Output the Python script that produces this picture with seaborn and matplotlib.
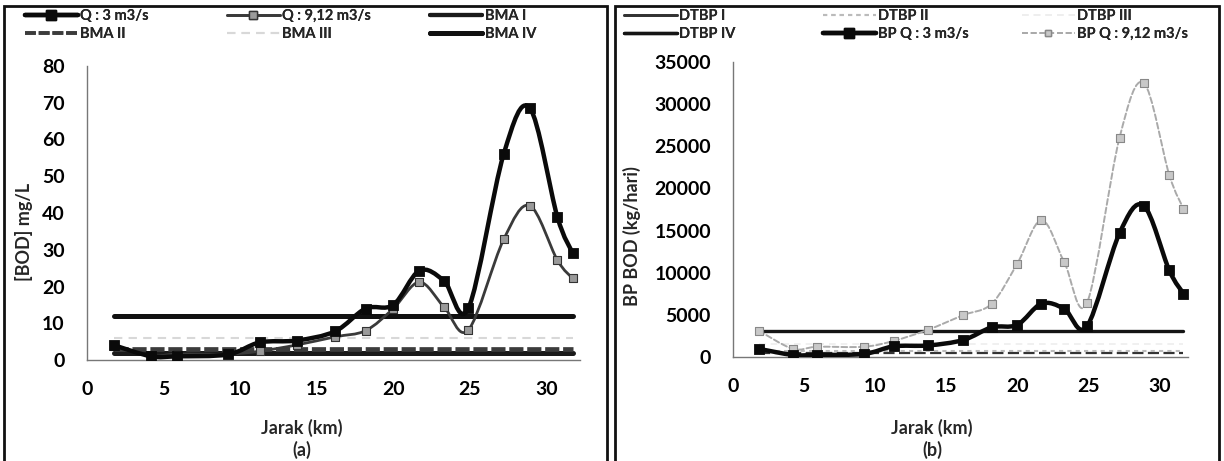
import numpy as np
import matplotlib
matplotlib.use("Agg")
import matplotlib.pyplot as plt
from matplotlib.path import Path
from matplotlib.patches import PathPatch, Rectangle
from matplotlib.lines import Line2D
import seaborn as sns

# ---------------- data ----------------
km = [1.8, 4.2, 5.9, 9.2, 11.3, 13.7, 16.2, 18.2, 20.0, 21.7, 23.3, 24.9, 27.2, 28.9, 30.7, 31.7]
bod_q3 = [4.0, 1.0, 1.0, 1.5, 4.8, 5.3, 7.8, 14.0, 15.0, 24.3, 21.6, 14.1, 56.0, 68.6, 39.0, 29.1]
bod_q912 = [3.9, 1.2, 1.6, 1.6, 2.4, 4.1, 6.3, 8.0, 14.0, 21.2, 14.5, 8.2, 32.8, 42.0, 27.2, 22.2]
bma_names = ["BMA I", "BMA II", "BMA III", "BMA IV"]
bma_values = [2, 3, 6, 12]

bp_q3 = [1000, 280, 280, 400, 1300, 1400, 2050, 3550, 3850, 6350, 5750, 3650, 14700, 17950, 10300, 7550]
bp_q912 = [3150, 1000, 1250, 1250, 1950, 3250, 5000, 6350, 11100, 16250, 11300, 6400, 26000, 32500, 21600, 17600]
dtbp_names = ["DTBP I", "DTBP II", "DTBP III", "DTBP IV"]
dtbp_values = [520, 800, 1550, 3110]

x_ticks = [0, 5, 10, 15, 20, 25, 30]
yL_ticks = [0, 10, 20, 30, 40, 50, 60, 70, 80]
yR_ticks = [0, 5000, 10000, 15000, 20000, 25000, 30000, 35000]

# ---------------- style ----------------
sns.set_theme(style="white")
plt.rcParams["font.family"] = ["Lato", "DejaVu Sans"]
plt.rcParams["font.weight"] = "bold"

W, H = 1224, 461
fig = plt.figure(figsize=(W / 100, H / 100), dpi=100)


def fx(px):
    return px / W


def fy(py):
    return 1 - py / H


def smooth(ax, x, y, color, lw, ls="-", z=3):
    pts = np.column_stack([x, y]).astype(float)
    n = len(pts)
    verts = [tuple(pts[0])]
    codes = [Path.MOVETO]
    t = 1 / 6
    for i in range(n - 1):
        p0 = pts[max(i - 1, 0)]
        p1 = pts[i]
        p2 = pts[i + 1]
        p3 = pts[min(i + 2, n - 1)]
        c1 = p1 + (p2 - p0) * t
        c2 = p2 - (p3 - p1) * t
        verts += [tuple(c1), tuple(c2), tuple(p2)]
        codes += [Path.CURVE4] * 3
    patch = PathPatch(Path(verts, codes), facecolor="none", edgecolor=color,
                      lw=lw, linestyle=ls, zorder=z, capstyle="round", joinstyle="round")
    ax.add_patch(patch)


def style_axis(ax, xlim, ylim, yticks):
    ax.set_xlim(*xlim)
    ax.set_ylim(*ylim)
    ax.set_xticks(x_ticks)
    ax.set_yticks(yticks)
    for s in ["top", "right"]:
        ax.spines[s].set_visible(False)
    for s in ["left", "bottom"]:
        ax.spines[s].set_color("#777777")
        ax.spines[s].set_linewidth(1.0)
    ax.tick_params(axis="both", direction="out", length=5, width=1, color="#777777",
                   labelsize=14, labelcolor="black")
    ax.tick_params(axis="y", pad=11)
    ax.tick_params(axis="x", pad=10)
    ax.set_xlabel("")
    ax.set_ylabel("")
    ax.set_facecolor("none")


# ---------------- left panel ----------------
axL = fig.add_axes([fx(86.7), fy(360), (580.3 - 86.7) / W, (360 - 66) / H])
bma_styles = [("#1a1a1a", 3.6, "-"), ("#3c3c3c", 3.4, (0, (3, 0.8))),
              ("#d8d8d8", 1.5, (0, (4, 3))), ("#111111", 3.6, "-")]
for val, (c, lw, ls) in zip(bma_values, bma_styles):
    sns.lineplot(x=km, y=[val] * len(km), ax=axL, color=c, linewidth=lw,
                 linestyle=ls, legend=False, zorder=2)
smooth(axL, km, bod_q912, "#3a3a3a", 2.0, z=3)
sns.scatterplot(x=km, y=bod_q912, ax=axL, marker="s", s=30, color="#9a9a9a",
                edgecolor="#333333", linewidth=0.8, zorder=4, legend=False)
smooth(axL, km, bod_q3, "#0a0a0a", 3.2, z=5)
sns.scatterplot(x=km, y=bod_q3, ax=axL, marker="s", s=55, color="#0a0a0a",
                edgecolor="#0a0a0a", zorder=6, legend=False)
style_axis(axL, (0, 32.2), (0, 80), yL_ticks)

# ---------------- right panel ----------------
axR = fig.add_axes([fx(733.3), fy(357.3), (1187.7 - 733.3) / W, (357.3 - 61.7) / H])
dtbp_styles = [("#333333", 1.6, (0, (5, 2))), ("#bbbbbb", 1.5, (0, (2, 2))),
               ("#eeeeee", 1.2, (0, (4, 3))), ("#151515", 2.4, "-")]
for val, (c, lw, ls) in zip(dtbp_values, dtbp_styles):
    sns.lineplot(x=km, y=[val] * len(km), ax=axR, color=c, linewidth=lw,
                 linestyle=ls, legend=False, zorder=2)
smooth(axR, km, bp_q912, "#aaaaaa", 1.4, ls=(0, (3, 1.5)), z=3)
sns.scatterplot(x=km, y=bp_q912, ax=axR, marker="s", s=28, color="#c8c8c8",
                edgecolor="#888888", linewidth=0.8, zorder=4, legend=False)
smooth(axR, km, bp_q3, "#0a0a0a", 3.2, z=5)
sns.scatterplot(x=km, y=bp_q3, ax=axR, marker="s", s=55, color="#0a0a0a",
                edgecolor="#0a0a0a", zorder=6, legend=False)
style_axis(axR, (0, 32), (0, 35000), yR_ticks)

# ---------------- labels ----------------
fig.text(fx(302), fy(428), "Jarak (km)", ha="center", va="center", fontsize=13, weight="bold")
fig.text(fx(302), fy(450), "(a)", ha="center", va="center", fontsize=13, weight="bold")
fig.text(fx(932), fy(428), "Jarak (km)", ha="center", va="center", fontsize=13, weight="bold")
fig.text(fx(932), fy(450), "(b)", ha="center", va="center", fontsize=13, weight="bold")
fig.text(fx(24), fy(232), "[BOD] mg/L", ha="center", va="center", rotation=90,
         fontsize=13, weight="bold")
fig.text(fx(632), fy(236), "BP BOD (kg/hari)", ha="center", va="center", rotation=90,
         fontsize=13, weight="bold")

# ---------------- frames ----------------
for x0, x1 in [(4, 607), (615, 1219)]:
    fig.add_artist(Rectangle((fx(x0), -0.05), (x1 - x0) / W, fy(6) + 0.05,
                             transform=fig.transFigure, fill=False, lw=2.0,
                             edgecolor="#111111", clip_on=False))

# ---------------- legends ----------------
def h(color, lw, ls="-", marker=None, ms=0, mfc=None, mec=None):
    return Line2D([], [], color=color, lw=lw, linestyle=ls, marker=marker,
                  markersize=ms, markerfacecolor=mfc, markeredgecolor=mec)


left_entries = [
    (h("#0a0a0a", 3.2, "-", "s", 7, "#0a0a0a", "#0a0a0a"), "Q : 3 m3/s"),
    (h(bma_styles[1][0], 2.6, bma_styles[1][2]), bma_names[1]),
    (h("#3a3a3a", 2.0, "-", "s", 6, "#9a9a9a", "#333333"), "Q : 9,12 m3/s"),
    (h(bma_styles[2][0], 1.5, bma_styles[2][2]), bma_names[2]),
    (h(bma_styles[0][0], 3.0, "-"), bma_names[0]),
    (h(bma_styles[3][0], 3.6, "-"), bma_names[3]),
]
right_entries = [
    (h(dtbp_styles[0][0], 2.0, "-"), dtbp_names[0]),
    (h(dtbp_styles[3][0], 2.4, "-"), dtbp_names[3]),
    (h(dtbp_styles[1][0], 1.5, dtbp_styles[1][2]), dtbp_names[1]),
    (h("#0a0a0a", 3.2, "-", "s", 7, "#0a0a0a", "#0a0a0a"), "BP Q : 3 m3/s"),
    (h(dtbp_styles[2][0], 1.2, dtbp_styles[2][2]), dtbp_names[2]),
    (h("#aaaaaa", 1.4, (0, (3, 1.5)), "s", 5, "#c8c8c8", "#888888"), "BP Q : 9,12 m3/s"),
]


def col_legend(entries, x_px, y_px):
    leg = fig.legend([e[0] for e in entries], [e[1] for e in entries],
                     loc="upper left", bbox_to_anchor=(fx(x_px), fy(y_px)),
                     frameon=False, fontsize=10.5, handlelength=3.6,
                     handletextpad=0.2, borderpad=0, borderaxespad=0,
                     labelspacing=0.25)
    fig.add_artist(leg)


for i, xp in enumerate([25, 227, 430]):
    col_legend(left_entries[2 * i:2 * i + 2], xp, 9)
for i, xp in enumerate([624, 823, 1022]):
    col_legend(right_entries[2 * i:2 * i + 2], xp, 9)

fig.savefig("out.png", dpi=100, facecolor="white")
